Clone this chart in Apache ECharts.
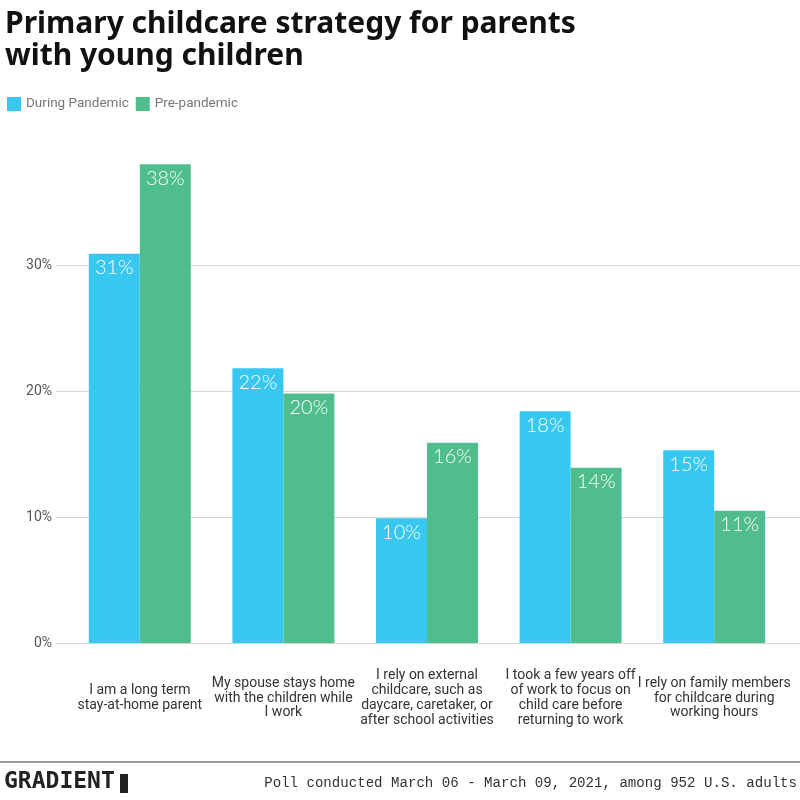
<!DOCTYPE html>
<html><head><meta charset="utf-8">
<script src="https://cdn.jsdelivr.net/npm/echarts@6/dist/echarts.min.js"></script>
<style>html,body{margin:0;padding:0;background:#fff}#c{width:800px;height:800px}</style>
</head><body><div id="c"></div>
<script>
const categories = [
  "I am a long term\nstay-at-home parent",
  "My spouse stays home\nwith the children while\nI work",
  "I rely on external\nchildcare, such as\ndaycare, caretaker, or\nafter school activities",
  "I took a few years off\nof work to focus on\nchild care before\nreturning to work",
  "I rely on family members\nfor childcare during\nworking hours"
];
const duringPandemic = [30.9, 21.8, 9.9, 18.4, 15.3];
const prePandemic = [38.0, 19.8, 15.9, 13.9, 10.5];
const yTicks = [0, 10, 20, 30];
const titleText = "Primary childcare strategy for parents\nwith young children";
const footnote = "Poll conducted March 06 - March 09, 2021, among 952 U.S. adults";

const chart = echarts.init(document.getElementById('c'));
const labelOpt = {
  show: true, position: 'insideTop', distance: 4, color: '#fff',
  fontFamily: 'Lato', fontWeight: 300, fontSize: 20, formatter: p => Math.round(p.value) + '%'
};
chart.setOption({
  animation: false,
  title: {
    text: titleText, left: 0, top: 3,
    textStyle: { fontFamily: 'Noto Sans', fontWeight: 'bold', fontSize: 30, lineHeight: 32, color: '#111' }
  },
  legend: {
    left: 7, top: 97, padding: 0, itemWidth: 14, itemHeight: 14, itemGap: 7,
    icon: 'rect',
    textStyle: { fontFamily: 'Roboto', fontSize: 13.5, color: '#777' },
    data: ['During Pandemic', 'Pre-pandemic']
  },
  grid: [
    { left: 68, right: 14, top: 139, bottom: 157 },
    { left: 56, right: 0, top: 265, bottom: 157 }
  ],
  xAxis: [
    { type: 'category', gridIndex: 0, data: categories,
      axisLine: { show: false }, axisTick: { show: false },
      axisLabel: { interval: 0, margin: 55, verticalAlign: 'middle', fontFamily: 'Roboto', fontSize: 14, lineHeight: 14.8, color: '#333' } },
    { type: 'category', gridIndex: 1, data: ['a'], show: false }
  ],
  yAxis: [
    { type: 'value', gridIndex: 0, min: 0, max: 40, interval: 10, splitLine: { show: false },
      axisLabel: { show: false }, axisLine: { show: false }, axisTick: { show: false } },
    { type: 'value', gridIndex: 1, min: 0, max: 30, interval: 10,
      axisLine: { show: false }, axisTick: { show: false },
      splitLine: { lineStyle: { color: '#d6d6d6', width: 1 } },
      axisLabel: { margin: 4, fontFamily: 'Roboto', fontSize: 14, color: '#555',
        formatter: v => (yTicks.indexOf(v) >= 0 ? v + '%' : '') } }
  ],
  series: [
    { name: 'During Pandemic', type: 'bar', xAxisIndex: 0, yAxisIndex: 0, data: duringPandemic,
      barWidth: 51, barGap: '0%', itemStyle: { color: '#38C8EF' }, label: labelOpt, z: 3 },
    { name: 'Pre-pandemic', type: 'bar', xAxisIndex: 0, yAxisIndex: 0, data: prePandemic,
      barWidth: 51, barGap: '0%', itemStyle: { color: '#50BD8E' }, label: labelOpt, z: 3 }
  ],
  graphic: [
    { type: 'rect', left: 0, top: 761, shape: { width: 800, height: 2 }, style: { fill: '#9a9a9a' } },
    { type: 'text', left: 4, top: 771, style: { text: 'GRADIENT', fontFamily: 'DejaVu Sans Mono', fontWeight: 'bold', fontSize: 23, fill: '#222' } },
    { type: 'rect', left: 120, top: 774, shape: { width: 8, height: 19 }, style: { fill: '#222' } },
    { type: 'text', right: 3, top: 776, style: { text: footnote, fontFamily: 'Liberation Mono', fontSize: 14.1, fill: '#333' } }
  ]
});
</script></body></html>
